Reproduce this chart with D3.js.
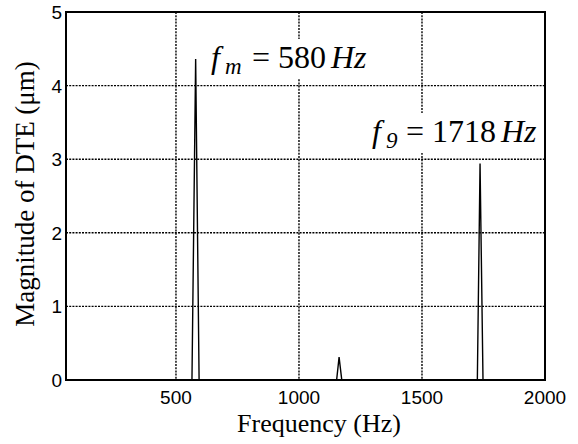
<!DOCTYPE html>
<html>
<head>
<meta charset="utf-8">
<script src="https://cdn.jsdelivr.net/npm/d3@7"></script>
<style>
  body { margin: 0; background: #fff; }
  svg { display: block; }
</style>
</head>
<body>
<svg id="chart" width="578" height="444"></svg>
<script>
// spectrum (Hz, um)
const freqs      = [53, 565, 580, 594, 1153, 1163, 1174, 1725, 1736, 1748, 2000];
const magnitudes = [0,  0,   4.36, 0,  0,    0.31, 0,    0,    2.94, 0,    0];

const xTicks = [500, 1000, 1500, 2000];
const yTicks = [0, 1, 2, 3, 4, 5];

const serif = "Liberation Serif";
const sans = "Liberation Sans";

const margin = {top: 12, right: 33, bottom: 64, left: 66};

const svg = d3.select("#chart");
const width = +svg.attr("width") - margin.left - margin.right,
      height = +svg.attr("height") - margin.top - margin.bottom;

const xScale = d3.scaleLinear().domain([53, 2000]).range([0, width]);
const yScale = d3.scaleLinear().domain([0, 5]).range([height, 0]);

const g = svg.append("g")
    .attr("transform", "translate(" + margin.left + "," + margin.top + ")");

// dotted grid
g.selectAll(".vgrid")
    .data(xTicks.slice(0, -1))
    .enter().append("line")
    .attr("x1", d => xScale(d)).attr("x2", d => xScale(d))
    .attr("y1", 0).attr("y2", height)
    .attr("stroke", "#000").attr("stroke-width", 1.4)
    .attr("stroke-dasharray", "2,1.2");

g.selectAll(".hgrid")
    .data(yTicks.slice(1, -1))
    .enter().append("line")
    .attr("x1", 0).attr("x2", width)
    .attr("y1", d => yScale(d)).attr("y2", d => yScale(d))
    .attr("stroke", "#000").attr("stroke-width", 1.4)
    .attr("stroke-dasharray", "2,1.2");

// spectrum line
const line = d3.line()
    .x((d, i) => xScale(freqs[i]))
    .y(d => yScale(d));

g.append("path")
    .datum(magnitudes)
    .attr("d", line)
    .attr("fill", "none")
    .attr("stroke", "#000")
    .attr("stroke-width", 1.4);

// annotations with white backing, pos = x of [f, sub, =, value, Hz]
function label(pos, y, sub, value) {
    const lab = g.append("g");
    const t = lab.append("text")
        .attr("font-family", serif)
        .attr("font-size", 32)
        .attr("y", y - margin.top);
    const parts = [
        {s: "f", italic: true},
        {s: sub, italic: true, small: true},
        {s: "="},
        {s: value},
        {s: "Hz", italic: true}
    ];
    parts.forEach(function (p, i) {
        t.append("tspan")
            .attr("x", pos[i] - margin.left)
            .attr("y", y - margin.top + (p.small ? 6 : 0))
            .attr("font-style", p.italic ? "italic" : "normal")
            .attr("font-size", p.small ? 23 : 32)
            .text(p.s);
    });
    const bb = t.node().getBBox();
    lab.insert("rect", "text")
        .attr("x", bb.x - 4).attr("y", bb.y)
        .attr("width", bb.width + 8).attr("height", bb.height)
        .attr("fill", "#fff");
}
label([211, 225, 252, 278, 331], 68, "m", "580");
label([372, 386, 406, 432, 501], 142, "9", "1718");

// frame
g.append("rect")
    .attr("x", 0).attr("y", 0)
    .attr("width", width).attr("height", height)
    .attr("fill", "none").attr("stroke", "#000").attr("stroke-width", 2);

// tick labels
g.selectAll(".xlab")
    .data(xTicks)
    .enter().append("text")
    .attr("font-family", sans).attr("font-size", 19)
    .attr("x", d => xScale(d)).attr("y", height + 24)
    .attr("text-anchor", "middle")
    .text(d => d);

g.selectAll(".ylab")
    .data(yTicks)
    .enter().append("text")
    .attr("font-family", sans).attr("font-size", 19)
    .attr("x", -4).attr("y", d => yScale(d) + 7)
    .attr("text-anchor", "end")
    .text(d => d);

// axis titles
svg.append("text")
    .attr("font-family", serif).attr("font-size", 26)
    .attr("x", 319)
    .attr("y", 432)
    .attr("text-anchor", "middle")
    .text("Frequency (Hz)");

svg.append("text")
    .attr("font-family", serif).attr("font-size", 27)
    .attr("transform", "translate(34,194)rotate(-90)")
    .attr("text-anchor", "middle")
    .text("Magnitude of DTE (\u03bcm)");
</script>
</body>
</html>
